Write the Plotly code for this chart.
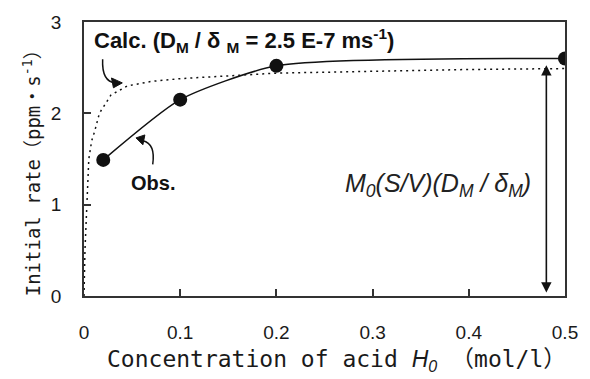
import plotly.graph_objects as go

# Observed data
obs_x = [0.02, 0.1, 0.2, 0.5]
obs_y = [1.49, 2.15, 2.52, 2.60]

# Calculated curve
calc_x = [0, 0.001, 0.003, 0.005, 0.008, 0.011, 0.016, 0.028, 0.045, 0.07, 0.1, 0.13, 0.2, 0.3, 0.4, 0.5]
calc_y = [0, 0.5, 1.0, 1.5, 1.7, 1.8, 2.0, 2.2, 2.3, 2.35, 2.38, 2.40, 2.44, 2.46, 2.48, 2.49]

x_ticks = [0, 0.1, 0.2, 0.3, 0.4, 0.5]
x_tick_text = ["0", "0.1", "0.2", "0.3", "0.4", "0.5"]
y_ticks = [0, 1, 2, 3]
y_tick_text = ["0", "1", "2", "3"]

x_title = "Concentration of acid <span style=\"font-family:Liberation Sans\"><i>H<sub>0</sub></i></span> （mol/l）"
y_title = "Initial rate（ppm・s<sup>-1</sup>）"

# pixel helpers for decorations (plot area: x 84..574, y 296..17)
def P(xp, yp):
    return (xp - 84) / 980.0, (296 - yp) / 93.0

def PP(xp, yp):
    return (xp - 84) / 490.0, (296 - yp) / 279.0

def path(points, close=False):
    s = ""
    for i, (xp, yp) in enumerate(points):
        x, y = P(xp, yp)
        s += ("M" if i == 0 else "L") + f"{x:.5f},{y:.5f} "
    if close:
        s += "Z"
    return s

def qpath(p0, c, p1):
    x0, y0 = P(*p0); cx, cy = P(*c); x1, y1 = P(*p1)
    return f"M{x0:.5f},{y0:.5f} Q{cx:.5f},{cy:.5f} {x1:.5f},{y1:.5f}"

fig = go.Figure()
fig.add_trace(go.Scatter(x=calc_x, y=calc_y, mode="lines",
                         line=dict(color="#111", width=1.5, dash="2px,4px"),
                         showlegend=False))
fig.add_trace(go.Scatter(x=obs_x, y=obs_y, mode="lines+markers",
                         line=dict(color="#111", width=1.5, shape="spline", smoothing=0.6),
                         marker=dict(color="#111", size=14),
                         showlegend=False))

shapes = [
    # Calc curved arrow
    dict(type="path", path=qpath((103, 55), (102, 78), (116, 79)),
         line=dict(color="#111", width=1.5), xref="x", yref="y"),
    dict(type="path", path=path([(123, 79), (112, 74), (114, 84)], close=True),
         line=dict(color="#111", width=1), fillcolor="#111", xref="x", yref="y"),
    # Obs curved arrow
    dict(type="path", path=qpath((154, 162), (157, 141), (144, 138)),
         line=dict(color="#111", width=1.5), xref="x", yref="y"),
    dict(type="path", path=path([(137, 135), (146, 132), (144, 142)], close=True),
         line=dict(color="#111", width=1), fillcolor="#111", xref="x", yref="y"),
]

ax_x, _ = P(555, 0)
top_y = P(0, 61)[1]
bot_y = P(0, 294)[1]

xt_x, xt_y = PP(341, 362)
yt_x, yt_y = PP(31, 166)

annotations = [
    dict(x=P(247, 0)[0], y=P(0, 36)[1], xref="x", yref="y", showarrow=False,
         text="<b>Calc. (D<sub>M</sub> / δ <sub>M</sub> = 2.5 E-7 ms<sup>-1</sup>)</b>",
         font=dict(family="Liberation Sans, Arial", size=22, color="#111")),
    dict(x=P(154, 0)[0], y=P(0, 181)[1], xref="x", yref="y", showarrow=False,
         text="<b>Obs.</b>",
         font=dict(family="Liberation Sans, Arial", size=20, color="#111")),
    dict(x=P(445, 0)[0], y=P(0, 183)[1], xref="x", yref="y", showarrow=False,
         text="<i>M<sub>0</sub>(S/V)(D<sub>M</sub> / δ<sub>M</sub>)</i>",
         font=dict(family="Liberation Sans, Arial", size=25, color="#222")),
    dict(x=ax_x, y=top_y, ax=ax_x, ay=bot_y, xref="x", yref="y", axref="x", ayref="y",
         text="", showarrow=True, arrowhead=2, startarrowhead=2, arrowside="end+start",
         arrowwidth=1.6, arrowsize=1.3, startarrowsize=1.3, arrowcolor="#111",
         standoff=0, startstandoff=0),
    dict(x=xt_x, y=xt_y, xref="paper", yref="paper", showarrow=False,
         xanchor="center", yanchor="middle", text=x_title,
         font=dict(family="DejaVu Sans Mono, Noto Sans CJK JP", size=23, color="#1a1a1a")),
    dict(x=yt_x, y=yt_y, xref="paper", yref="paper", showarrow=False, textangle=-90,
         xanchor="center", yanchor="middle", text=y_title,
         font=dict(family="DejaVu Sans Mono, Noto Sans CJK JP", size=19, color="#1a1a1a")),
]

fig.update_layout(
    width=590, height=379,
    margin=dict(l=84, r=16, t=17, b=83),
    plot_bgcolor="white", paper_bgcolor="white",
    shapes=shapes, annotations=annotations,
    font=dict(family="Liberation Sans", size=19, color="#1a1a1a"),
)
fig.update_xaxes(range=[0, 0.5], tickvals=x_ticks, ticktext=x_tick_text,
                 ticks="inside", ticklen=7, tickwidth=1.5, tickcolor="#333",
                 showline=True, linecolor="#333", linewidth=1.5, mirror=True,
                 showgrid=False, zeroline=False, ticklabelstandoff=18,
                 tickfont=dict(family="Liberation Sans, Arial", size=19, color="#1a1a1a"))
fig.update_yaxes(range=[0, 3], tickvals=y_ticks, ticktext=y_tick_text,
                 ticks="inside", ticklen=7, tickwidth=1.5, tickcolor="#333",
                 showline=True, linecolor="#333", linewidth=1.5, mirror=True,
                 showgrid=False, zeroline=False, ticklabelstandoff=17,
                 tickfont=dict(family="Liberation Sans, Arial", size=19, color="#1a1a1a"))

fig.write_html("out.html")
